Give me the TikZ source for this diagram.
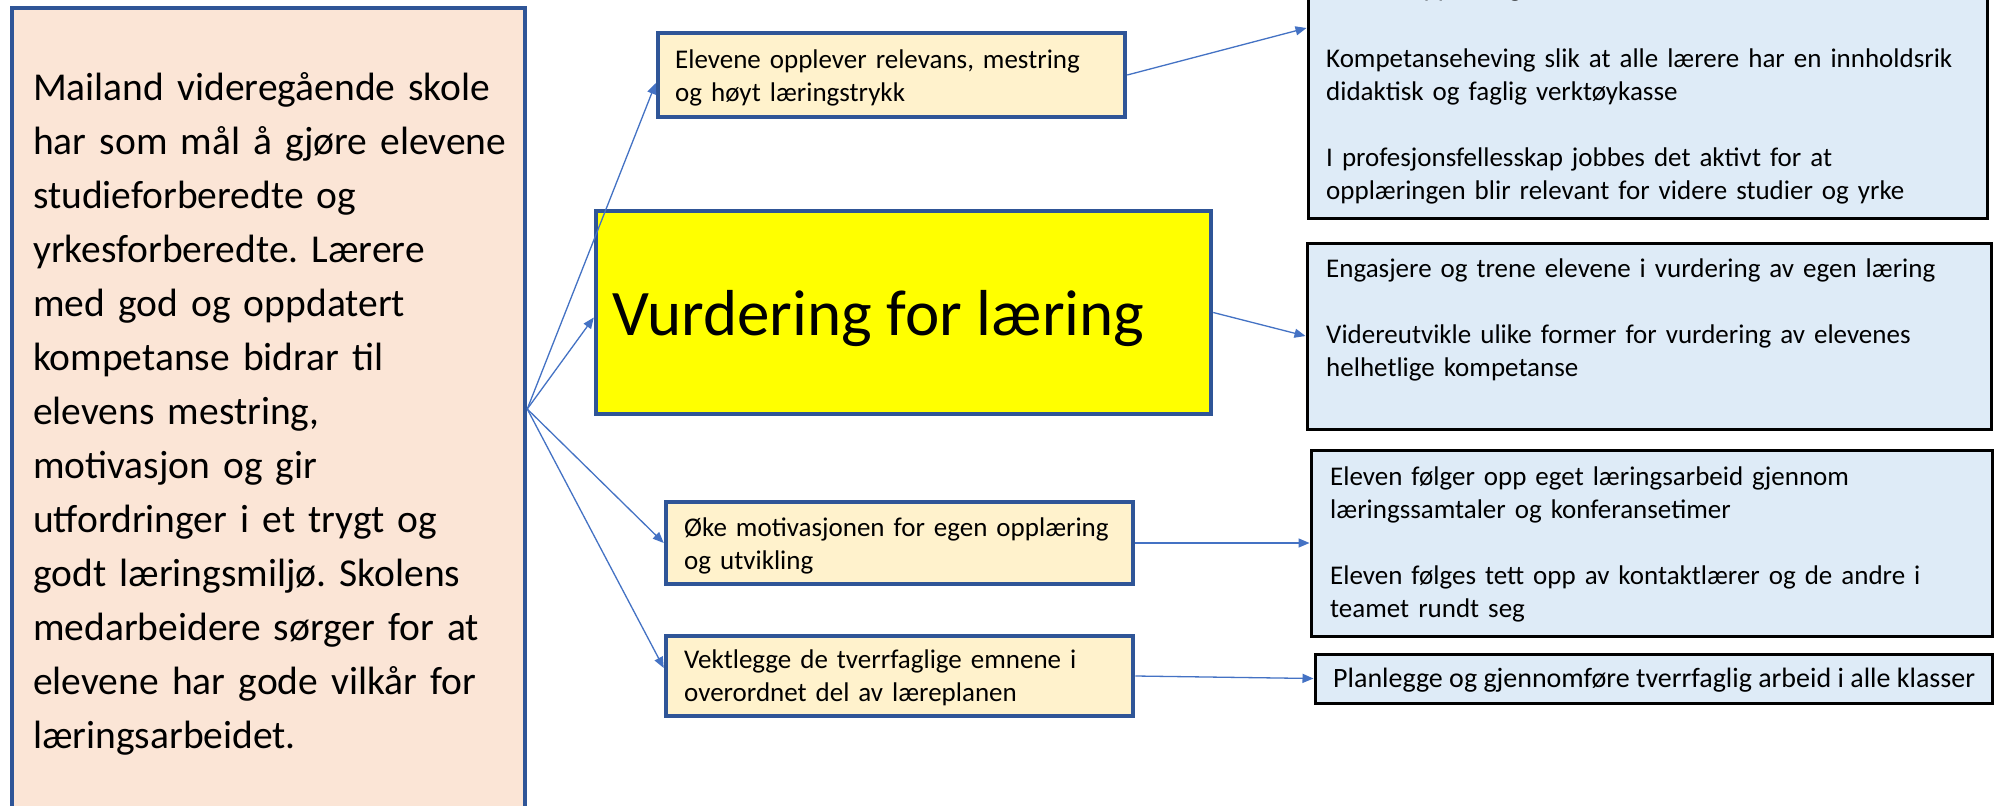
\documentclass[tikz,border=0pt]{standalone}
\usepackage{fontspec}
\setmainfont{Carlito}
\usetikzlibrary{arrows.meta}
\frenchspacing
\definecolor{bordblue}{HTML}{2F5597}
\definecolor{pinkfill}{HTML}{FBE5D6}
\definecolor{creamfill}{HTML}{FFF2CC}
\definecolor{bluefill}{HTML}{DEEBF7}
\definecolor{arrowblue}{HTML}{4472C4}
\definecolor{yellowfill}{HTML}{FFFF00}
\tikzset{
  bluebord/.style={draw=bordblue, line width=4.5pt, inner sep=0pt, anchor=center},
  pinkbox/.style={bluebord, fill=pinkfill},
  creambox/.style={bluebord, fill=creamfill},
  yellowbox/.style={bluebord, fill=yellowfill},
  lightbox/.style={draw=black, line width=3pt, fill=bluefill, inner sep=0pt, anchor=center},
  smalltxt/.style={inner sep=0pt, anchor=north west, text width=720pt, align=left,
    font=\fontsize{27}{33}\selectfont\frenchspacing},
  bigtxt/.style={inner sep=0pt, anchor=north west, text width=520pt, align=left,
    font=\fontsize{39.5}{54}\selectfont\frenchspacing},
  conn/.style={draw=arrowblue, line width=1.3pt, -{Triangle[length=11pt,width=9pt]}},
}
\begin{document}
\begin{tikzpicture}[x=1pt,y=-1pt]
\clip (0,0) rectangle (1995,806);
\fill[white] (0,0) rectangle (1995,806);

% boxes
\node[pinkbox, minimum width=513pt, minimum height=832pt] (L) at (268.5,424) {};
\node[creambox, minimum width=467pt, minimum height=84pt] (A) at (891.5,75) {};
\node[yellowbox, minimum width=615pt, minimum height=203pt] (Y) at (903.5,312.5) {};
\node[creambox, minimum width=467pt, minimum height=82pt] (B) at (899.5,543) {};
\node[creambox, minimum width=467pt, minimum height=80pt] (C) at (899.5,676) {};
\node[lightbox, minimum width=679pt, minimum height=380pt] (R1) at (1647.5,28) {};
\node[lightbox, minimum width=684pt, minimum height=186pt] (R2) at (1649,336) {};
\node[lightbox, minimum width=681pt, minimum height=186pt] (R3) at (1651.5,543) {};
\node[lightbox, minimum width=677pt, minimum height=49pt] (R4) at (1653.5,678.5) {};

% texts
\node[bigtxt] (Ltext) at (33,62.2) {\strut Mailand videregående skole\\
har som mål å gjøre elevene\\
studieforberedte og\\
yrkesforberedte. Lærere\\
med god og oppdatert\\
kompetanse bidrar til\\
elevens mestring,\\
motivasjon og gir\\
utfordringer i et trygt og\\
godt læringsmiljø. Skolens\\
medarbeidere sørger for at\\
elevene har gode vilkår for\\
læringsarbeidet.};

\node[smalltxt] (Atext) at (675,44.9) {\strut Elevene opplever relevans, mestring\\ og høyt læringstrykk};
\node[inner sep=0pt, anchor=base west, font=\fontsize{65}{78}\selectfont] (Ytext) at (612,335) {Vurdering for læring};
\node[smalltxt] (Btext) at (684,512.9) {\strut Øke motivasjonen for egen opplæring\\ og utvikling};
\node[smalltxt] (Ctext) at (684,644.9) {\strut Vektlegge de tverrfaglige emnene i\\ overordnet del av læreplanen};

\node[smalltxt] (R1text) at (1326,-26.6) {\strut Variert opplæring\\[37.6pt]
Kompetanseheving slik at alle lærere har en innholdsrik\\
didaktisk og faglig verktøykasse\\[33pt]
I profesjonsfellesskap jobbes det aktivt for at\\
opplæringen blir relevant for videre studier og yrke};
\node[smalltxt] (R2text) at (1326,253.9) {\strut Engasjere og trene elevene i vurdering av egen læring\\[33pt]
Videreutvikle ulike former for vurdering av elevenes\\
helhetlige kompetanse};
\node[smalltxt] (R3text) at (1330,461.9) {\strut Eleven følger opp eget læringsarbeid gjennom\\
læringssamtaler og konferansetimer\\[33pt]
Eleven følges tett opp av kontaktlærer og de andre i\\
teamet rundt seg};
\node[inner sep=0pt, anchor=base west, font=\fontsize{28}{33}\selectfont] (R4text) at (1333,687) {Planlegge og gjennomføre tverrfaglig arbeid i alle klasser};

% connectors
\draw[conn] ([yshift=15pt]L.east) -- ([yshift=-8pt]A.west);
\draw[conn] ([yshift=15pt]L.east) -- ([yshift=-5pt]Y.west);
\draw[conn] ([yshift=15pt]L.east) -- (B.west);
\draw[conn] ([yshift=15pt]L.east) -- ([yshift=8pt]C.west);
\draw[conn] (A.east) -- (R1.west);
\draw[conn] (Y.east) -- (R2.west);
\draw[conn] (B.east) -- (R3.west);
\draw[conn] (C.east) -- (R4.west);
\end{tikzpicture}
\end{document}
